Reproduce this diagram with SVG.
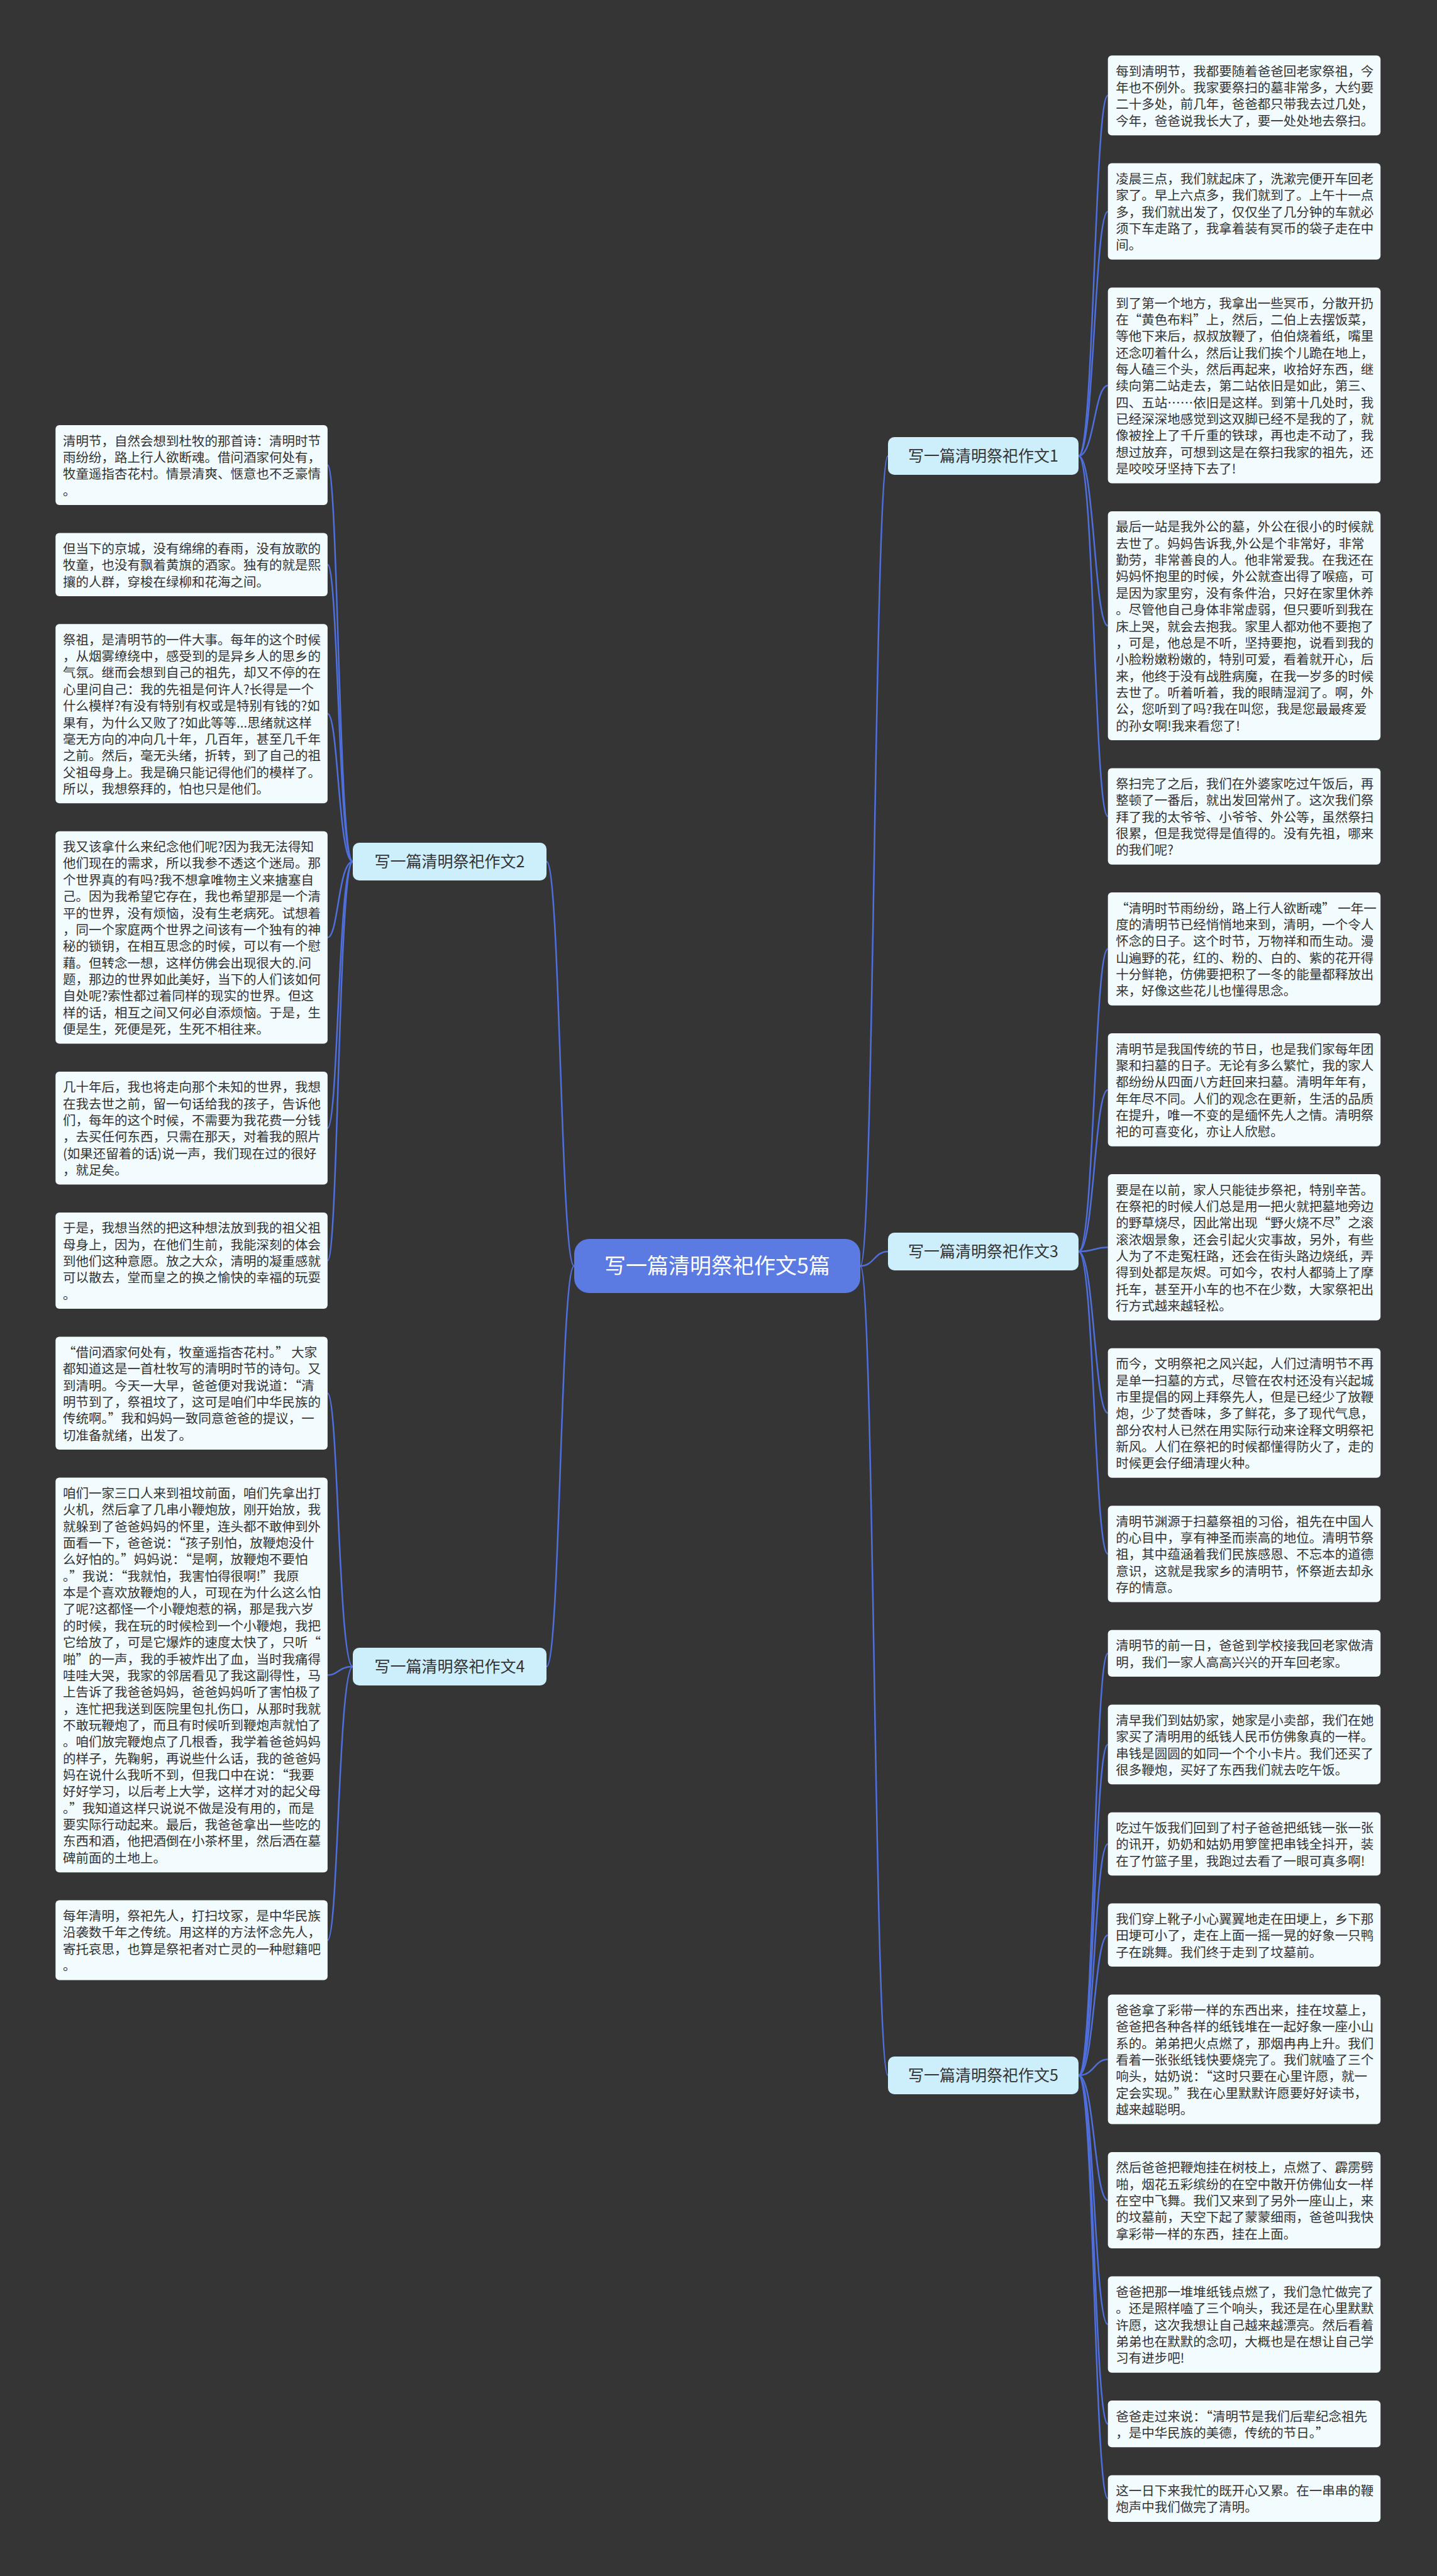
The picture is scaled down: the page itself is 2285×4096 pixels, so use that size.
<svg xmlns="http://www.w3.org/2000/svg" width="2285" height="4096" viewBox="0 0 2285 4096">
<defs>
<style>
.bg{fill:#353535}
.leaf{fill:#f2fbfe}
.lt{font-family:"Noto Sans CJK SC","Noto Sans",sans-serif;font-size:20.5px;fill:#333333}
.br{fill:#cdeefb}
.bt{font-family:"Noto Sans CJK SC","Noto Sans",sans-serif;font-size:25px;fill:#333333;text-anchor:middle}
.root{fill:#5b7be3}
.rt{font-family:"Noto Sans CJK SC","Noto Sans",sans-serif;font-size:34px;fill:#ffffff;text-anchor:middle}
.c{fill:none;stroke:#4f6fdc;stroke-width:2.5}
</style>
</defs>
<rect class="bg" x="0" y="0" width="2285" height="4096"/>
<g id="connectors">
<path class="c" d="M1368,2013 C1390,2013 1390,725 1412,725"/>
<path class="c" d="M1368,2013 C1390,2013 1390,1990 1412,1990"/>
<path class="c" d="M1368,2013 C1390,2013 1390,3300 1412,3300"/>
<path class="c" d="M913,2013 C891,2013 891,1370 869,1370"/>
<path class="c" d="M913,2013 C891,2013 891,2650 869,2650"/>
<path class="c" d="M1715,725 C1740,725 1740,151.8 1761.7,151.8"/>
<path class="c" d="M1715,725 C1740,725 1740,336.2 1761.7,336.2"/>
<path class="c" d="M1715,725 C1740,725 1740,612.9 1761.7,612.9"/>
<path class="c" d="M1715,725 C1740,725 1740,995 1761.7,995"/>
<path class="c" d="M1715,725 C1740,725 1740,1298.1 1761.7,1298.1"/>
<path class="c" d="M1715,1990 C1740,1990 1740,1508.9 1761.7,1508.9"/>
<path class="c" d="M1715,1990 C1740,1990 1740,1732.9 1761.7,1732.9"/>
<path class="c" d="M1715,1990 C1740,1990 1740,1983.3 1761.7,1983.3"/>
<path class="c" d="M1715,1990 C1740,1990 1740,2246.8 1761.7,2246.8"/>
<path class="c" d="M1715,1990 C1740,1990 1740,2470.8 1761.7,2470.8"/>
<path class="c" d="M1715,3300 C1740,3300 1740,2628.9 1761.7,2628.9"/>
<path class="c" d="M1715,3300 C1740,3300 1740,2773.9 1761.7,2773.9"/>
<path class="c" d="M1715,3300 C1740,3300 1740,2932 1761.7,2932"/>
<path class="c" d="M1715,3300 C1740,3300 1740,3076.9 1761.7,3076.9"/>
<path class="c" d="M1715,3300 C1740,3300 1740,3274.5 1761.7,3274.5"/>
<path class="c" d="M1715,3300 C1740,3300 1740,3498.5 1761.7,3498.5"/>
<path class="c" d="M1715,3300 C1740,3300 1740,3696.1 1761.7,3696.1"/>
<path class="c" d="M1715,3300 C1740,3300 1740,3854.2 1761.7,3854.2"/>
<path class="c" d="M1715,3300 C1740,3300 1740,3972.8 1761.7,3972.8"/>
<path class="c" d="M561,1370 C538,1370 538,739.6 520.9,739.6"/>
<path class="c" d="M561,1370 C538,1370 538,897.7 520.9,897.7"/>
<path class="c" d="M561,1370 C538,1370 538,1134.8 520.9,1134.8"/>
<path class="c" d="M561,1370 C538,1370 538,1490.6 520.9,1490.6"/>
<path class="c" d="M561,1370 C538,1370 538,1793.7 520.9,1793.7"/>
<path class="c" d="M561,1370 C538,1370 538,2004.5 520.9,2004.5"/>
<path class="c" d="M561,2650 C538,2650 538,2215.3 520.9,2215.3"/>
<path class="c" d="M561,2650 C538,2650 538,2663.4 520.9,2663.4"/>
<path class="c" d="M561,2650 C538,2650 538,3085.1 520.9,3085.1"/>
</g>
<g id="root">
<rect class="root" x="913" y="1970" width="455" height="86" rx="24"/>
<text class="rt" x="1140.5" y="2025">写一篇清明祭祀作文5篇</text>
</g>
<g id="b1"><rect class="br" x="1412" y="695" width="303" height="60" rx="10"/><text class="bt" x="1563.5" y="734">写一篇清明祭祀作文1</text></g>
<g id="b3"><rect class="br" x="1412" y="1960" width="303" height="60" rx="10"/><text class="bt" x="1563.5" y="1999">写一篇清明祭祀作文3</text></g>
<g id="b5"><rect class="br" x="1412" y="3270" width="303" height="60" rx="10"/><text class="bt" x="1563.5" y="3309">写一篇清明祭祀作文5</text></g>
<g id="b2"><rect class="br" x="561" y="1340" width="308" height="60" rx="10"/><text class="bt" x="715" y="1379">写一篇清明祭祀作文2</text></g>
<g id="b4"><rect class="br" x="561" y="2620" width="308" height="60" rx="10"/><text class="bt" x="715" y="2659">写一篇清明祭祀作文4</text></g>

<g id="R1"><rect class="leaf" x="1761.7" y="88.3" width="433.5" height="126.9" rx="6"/><text class="lt" x="1774.2" y="120.7"><tspan x="1774.2">每到清明节，我都要随着爸爸回老家祭祖，今</tspan><tspan x="1774.2" dy="26.36">年也不例外。我家要祭扫的墓非常多，大约要</tspan><tspan x="1774.2" dy="26.36">二十多处，前几年，爸爸都只带我去过几处，</tspan><tspan x="1774.2" dy="26.36">今年，爸爸说我长大了，要一处处地去祭扫。</tspan></text></g>
<g id="R2"><rect class="leaf" x="1761.7" y="259.6" width="433.5" height="153.2" rx="6"/><text class="lt" x="1774.2" y="292"><tspan x="1774.2">凌晨三点，我们就起床了，洗漱完便开车回老</tspan><tspan x="1774.2" dy="26.36">家了。早上六点多，我们就到了。上午十一点</tspan><tspan x="1774.2" dy="26.36">多，我们就出发了，仅仅坐了几分钟的车就必</tspan><tspan x="1774.2" dy="26.36">须下车走路了，我拿着装有冥币的袋子走在中</tspan><tspan x="1774.2" dy="26.36">间。</tspan></text></g>
<g id="R3"><rect class="leaf" x="1761.7" y="457.2" width="433.5" height="311.4" rx="6"/><text class="lt" x="1774.2" y="489.6"><tspan x="1774.2">到了第一个地方，我拿出一些冥币，分散开扔</tspan><tspan x="1774.2" dy="26.36">在“黄色布料”上，然后，二伯上去摆饭菜，</tspan><tspan x="1774.2" dy="26.36">等他下来后，叔叔放鞭了，伯伯烧着纸，嘴里</tspan><tspan x="1774.2" dy="26.36">还念叨着什么，然后让我们挨个儿跪在地上，</tspan><tspan x="1774.2" dy="26.36">每人磕三个头，然后再起来，收拾好东西，继</tspan><tspan x="1774.2" dy="26.36">续向第二站走去，第二站依旧是如此，第三、</tspan><tspan x="1774.2" dy="26.36">四、五站……依旧是这样。到第十几处时，我</tspan><tspan x="1774.2" dy="26.36">已经深深地感觉到这双脚已经不是我的了，就</tspan><tspan x="1774.2" dy="26.36">像被拴上了千斤重的铁球，再也走不动了，我</tspan><tspan x="1774.2" dy="26.36">想过放弃，可想到这是在祭扫我家的祖先，还</tspan><tspan x="1774.2" dy="26.36">是咬咬牙坚持下去了!</tspan></text></g>
<g id="R4"><rect class="leaf" x="1761.7" y="813" width="433.5" height="364.1" rx="6"/><text class="lt" x="1774.2" y="845.4"><tspan x="1774.2">最后一站是我外公的墓，外公在很小的时候就</tspan><tspan x="1774.2" dy="26.36">去世了。妈妈告诉我,外公是个非常好，非常</tspan><tspan x="1774.2" dy="26.36">勤劳，非常善良的人。他非常爱我。在我还在</tspan><tspan x="1774.2" dy="26.36">妈妈怀抱里的时候，外公就查出得了喉癌，可</tspan><tspan x="1774.2" dy="26.36">是因为家里穷，没有条件治，只好在家里休养</tspan><tspan x="1774.2" dy="26.36">。尽管他自己身体非常虚弱，但只要听到我在</tspan><tspan x="1774.2" dy="26.36">床上哭，就会去抱我。家里人都劝他不要抱了</tspan><tspan x="1774.2" dy="26.36">，可是，他总是不听，坚持要抱，说看到我的</tspan><tspan x="1774.2" dy="26.36">小脸粉嫩粉嫩的，特别可爱，看着就开心，后</tspan><tspan x="1774.2" dy="26.36">来，他终于没有战胜病魔，在我一岁多的时候</tspan><tspan x="1774.2" dy="26.36">去世了。听着听着，我的眼睛湿润了。啊，外</tspan><tspan x="1774.2" dy="26.36">公，您听到了吗?我在叫您，我是您最最疼爱</tspan><tspan x="1774.2" dy="26.36">的孙女啊!我来看您了!</tspan></text></g>
<g id="R5"><rect class="leaf" x="1761.7" y="1221.5" width="433.5" height="153.2" rx="6"/><text class="lt" x="1774.2" y="1253.9"><tspan x="1774.2">祭扫完了之后，我们在外婆家吃过午饭后，再</tspan><tspan x="1774.2" dy="26.36">整顿了一番后，就出发回常州了。这次我们祭</tspan><tspan x="1774.2" dy="26.36">拜了我的太爷爷、小爷爷、外公等，虽然祭扫</tspan><tspan x="1774.2" dy="26.36">很累，但是我觉得是值得的。没有先祖，哪来</tspan><tspan x="1774.2" dy="26.36">的我们呢?</tspan></text></g>
<g id="R6"><rect class="leaf" x="1761.7" y="1419.1" width="433.5" height="179.6" rx="6"/><text class="lt" x="1774.2" y="1451.5"><tspan x="1774.2"> “清明时节雨纷纷，路上行人欲断魂” 一年一</tspan><tspan x="1774.2" dy="26.36">度的清明节已经悄悄地来到，清明，一个令人</tspan><tspan x="1774.2" dy="26.36">怀念的日子。这个时节，万物祥和而生动。漫</tspan><tspan x="1774.2" dy="26.36">山遍野的花，红的、粉的、白的、紫的花开得</tspan><tspan x="1774.2" dy="26.36">十分鲜艳，仿佛要把积了一冬的能量都释放出</tspan><tspan x="1774.2" dy="26.36">来，好像这些花儿也懂得思念。</tspan></text></g>
<g id="R7"><rect class="leaf" x="1761.7" y="1643.1" width="433.5" height="179.6" rx="6"/><text class="lt" x="1774.2" y="1675.5"><tspan x="1774.2">清明节是我国传统的节日，也是我们家每年团</tspan><tspan x="1774.2" dy="26.36">聚和扫墓的日子。无论有多么繁忙，我的家人</tspan><tspan x="1774.2" dy="26.36">都纷纷从四面八方赶回来扫墓。清明年年有，</tspan><tspan x="1774.2" dy="26.36">年年尽不同。人们的观念在更新，生活的品质</tspan><tspan x="1774.2" dy="26.36">在提升，唯一不变的是缅怀先人之情。清明祭</tspan><tspan x="1774.2" dy="26.36">祀的可喜变化，亦让人欣慰。</tspan></text></g>
<g id="R8"><rect class="leaf" x="1761.7" y="1867.1" width="433.5" height="232.3" rx="6"/><text class="lt" x="1774.2" y="1899.5"><tspan x="1774.2">要是在以前，家人只能徒步祭祀，特别辛苦。</tspan><tspan x="1774.2" dy="26.36">在祭祀的时候人们总是用一把火就把墓地旁边</tspan><tspan x="1774.2" dy="26.36">的野草烧尽，因此常出现“野火烧不尽”之滚</tspan><tspan x="1774.2" dy="26.36">滚浓烟景象，还会引起火灾事故，另外，有些</tspan><tspan x="1774.2" dy="26.36">人为了不走冤枉路，还会在街头路边烧纸，弄</tspan><tspan x="1774.2" dy="26.36">得到处都是灰烬。可如今，农村人都骑上了摩</tspan><tspan x="1774.2" dy="26.36">托车，甚至开小车的也不在少数，大家祭祀出</tspan><tspan x="1774.2" dy="26.36">行方式越来越轻松。</tspan></text></g>
<g id="R9"><rect class="leaf" x="1761.7" y="2143.8" width="433.5" height="206" rx="6"/><text class="lt" x="1774.2" y="2176.2"><tspan x="1774.2">而今，文明祭祀之风兴起，人们过清明节不再</tspan><tspan x="1774.2" dy="26.36">是单一扫墓的方式，尽管在农村还没有兴起城</tspan><tspan x="1774.2" dy="26.36">市里提倡的网上拜祭先人，但是已经少了放鞭</tspan><tspan x="1774.2" dy="26.36">炮，少了焚香味，多了鲜花，多了现代气息，</tspan><tspan x="1774.2" dy="26.36">部分农村人已然在用实际行动来诠释文明祭祀</tspan><tspan x="1774.2" dy="26.36">新风。人们在祭祀的时候都懂得防火了，走的</tspan><tspan x="1774.2" dy="26.36">时候更会仔细清理火种。</tspan></text></g>
<g id="R10"><rect class="leaf" x="1761.7" y="2394.2" width="433.5" height="153.2" rx="6"/><text class="lt" x="1774.2" y="2426.6"><tspan x="1774.2">清明节渊源于扫墓祭祖的习俗，祖先在中国人</tspan><tspan x="1774.2" dy="26.36">的心目中，享有神圣而崇高的地位。清明节祭</tspan><tspan x="1774.2" dy="26.36">祖，其中蕴涵着我们民族感恩、不忘本的道德</tspan><tspan x="1774.2" dy="26.36">意识，这就是我家乡的清明节，怀祭逝去却永</tspan><tspan x="1774.2" dy="26.36">存的情意。</tspan></text></g>
<g id="R11"><rect class="leaf" x="1761.7" y="2591.8" width="433.5" height="74.2" rx="6"/><text class="lt" x="1774.2" y="2624.2"><tspan x="1774.2">清明节的前一日，爸爸到学校接我回老家做清</tspan><tspan x="1774.2" dy="26.36">明，我们一家人高高兴兴的开车回老家。</tspan></text></g>
<g id="R12"><rect class="leaf" x="1761.7" y="2710.4" width="433.5" height="126.9" rx="6"/><text class="lt" x="1774.2" y="2742.8"><tspan x="1774.2">清早我们到姑奶家，她家是小卖部，我们在她</tspan><tspan x="1774.2" dy="26.36">家买了清明用的纸钱人民币仿佛象真的一样。</tspan><tspan x="1774.2" dy="26.36">串钱是圆圆的如同一个个小卡片。我们还买了</tspan><tspan x="1774.2" dy="26.36">很多鞭炮，买好了东西我们就去吃午饭。</tspan></text></g>
<g id="R13"><rect class="leaf" x="1761.7" y="2881.7" width="433.5" height="100.5" rx="6"/><text class="lt" x="1774.2" y="2914.1"><tspan x="1774.2">吃过午饭我们回到了村子爸爸把纸钱一张一张</tspan><tspan x="1774.2" dy="26.36">的讯开，奶奶和姑奶用箩筐把串钱全抖开，装</tspan><tspan x="1774.2" dy="26.36">在了竹篮子里，我跑过去看了一眼可真多啊!</tspan></text></g>
<g id="R14"><rect class="leaf" x="1761.7" y="3026.6" width="433.5" height="100.5" rx="6"/><text class="lt" x="1774.2" y="3059"><tspan x="1774.2">我们穿上靴子小心翼翼地走在田埂上，乡下那</tspan><tspan x="1774.2" dy="26.36">田埂可小了，走在上面一摇一晃的好象一只鸭</tspan><tspan x="1774.2" dy="26.36">子在跳舞。我们终于走到了坟墓前。</tspan></text></g>
<g id="R15"><rect class="leaf" x="1761.7" y="3171.5" width="433.5" height="206" rx="6"/><text class="lt" x="1774.2" y="3203.9"><tspan x="1774.2">爸爸拿了彩带一样的东西出来，挂在坟墓上，</tspan><tspan x="1774.2" dy="26.36">爸爸把各种各样的纸钱堆在一起好象一座小山</tspan><tspan x="1774.2" dy="26.36">系的。弟弟把火点燃了，那烟冉冉上升。我们</tspan><tspan x="1774.2" dy="26.36">看着一张张纸钱快要烧完了。我们就嗑了三个</tspan><tspan x="1774.2" dy="26.36">响头，姑奶说：“这时只要在心里许愿，就一</tspan><tspan x="1774.2" dy="26.36">定会实现。”我在心里默默许愿要好好读书，</tspan><tspan x="1774.2" dy="26.36">越来越聪明。</tspan></text></g>
<g id="R16"><rect class="leaf" x="1761.7" y="3421.9" width="433.5" height="153.2" rx="6"/><text class="lt" x="1774.2" y="3454.3"><tspan x="1774.2">然后爸爸把鞭炮挂在树枝上，点燃了、霹雳劈</tspan><tspan x="1774.2" dy="26.36">啪，烟花五彩缤纷的在空中散开仿佛仙女一样</tspan><tspan x="1774.2" dy="26.36">在空中飞舞。我们又来到了另外一座山上，来</tspan><tspan x="1774.2" dy="26.36">的坟墓前，天空下起了蒙蒙细雨，爸爸叫我快</tspan><tspan x="1774.2" dy="26.36">拿彩带一样的东西，挂在上面。</tspan></text></g>
<g id="R17"><rect class="leaf" x="1761.7" y="3619.5" width="433.5" height="153.2" rx="6"/><text class="lt" x="1774.2" y="3651.9"><tspan x="1774.2">爸爸把那一堆堆纸钱点燃了，我们急忙做完了</tspan><tspan x="1774.2" dy="26.36">。还是照样嗑了三个响头，我还是在心里默默</tspan><tspan x="1774.2" dy="26.36">许愿，这次我想让自己越来越漂亮。然后看着</tspan><tspan x="1774.2" dy="26.36">弟弟也在默默的念叨，大概也是在想让自己学</tspan><tspan x="1774.2" dy="26.36">习有进步吧!</tspan></text></g>
<g id="R18"><rect class="leaf" x="1761.7" y="3817.1" width="433.5" height="74.2" rx="6"/><text class="lt" x="1774.2" y="3849.5"><tspan x="1774.2">爸爸走过来说：“清明节是我们后辈纪念祖先</tspan><tspan x="1774.2" dy="26.36">，是中华民族的美德，传统的节日。”</tspan></text></g>
<g id="R19"><rect class="leaf" x="1761.7" y="3935.7" width="433.5" height="74.2" rx="6"/><text class="lt" x="1774.2" y="3968.1"><tspan x="1774.2">这一日下来我忙的既开心又累。在一串串的鞭</tspan><tspan x="1774.2" dy="26.36">炮声中我们做完了清明。</tspan></text></g>

<g id="L1"><rect class="leaf" x="88.3" y="676.1" width="432.6" height="126.9" rx="6"/><text class="lt" x="99.9" y="708.5"><tspan x="99.9">清明节，自然会想到杜牧的那首诗：清明时节</tspan><tspan x="99.9" dy="26.36">雨纷纷，路上行人欲断魂。借问酒家何处有，</tspan><tspan x="99.9" dy="26.36">牧童遥指杏花村。情景清爽、惬意也不乏豪情</tspan><tspan x="99.9" dy="26.36">。</tspan></text></g>
<g id="L2"><rect class="leaf" x="88.3" y="847.4" width="432.6" height="100.5" rx="6"/><text class="lt" x="99.9" y="879.8"><tspan x="99.9">但当下的京城，没有绵绵的春雨，没有放歌的</tspan><tspan x="99.9" dy="26.36">牧童，也没有飘着黄旗的酒家。独有的就是熙</tspan><tspan x="99.9" dy="26.36">攘的人群，穿梭在绿柳和花海之间。</tspan></text></g>
<g id="L3"><rect class="leaf" x="88.3" y="992.3" width="432.6" height="285" rx="6"/><text class="lt" x="99.9" y="1024.7"><tspan x="99.9">祭祖，是清明节的一件大事。每年的这个时候</tspan><tspan x="99.9" dy="26.36">，从烟雾缭绕中，感受到的是异乡人的思乡的</tspan><tspan x="99.9" dy="26.36">气氛。继而会想到自己的祖先，却又不停的在</tspan><tspan x="99.9" dy="26.36">心里问自己：我的先祖是何许人?长得是一个</tspan><tspan x="99.9" dy="26.36">什么模样?有没有特别有权或是特别有钱的?如</tspan><tspan x="99.9" dy="26.36">果有，为什么又败了?如此等等...思绪就这样</tspan><tspan x="99.9" dy="26.36">毫无方向的冲向几十年，几百年，甚至几千年</tspan><tspan x="99.9" dy="26.36">之前。然后，毫无头绪，折转，到了自己的祖</tspan><tspan x="99.9" dy="26.36">父祖母身上。我是确只能记得他们的模样了。</tspan><tspan x="99.9" dy="26.36">所以，我想祭拜的，怕也只是他们。</tspan></text></g>
<g id="L4"><rect class="leaf" x="88.3" y="1321.7" width="432.6" height="337.8" rx="6"/><text class="lt" x="99.9" y="1354.1"><tspan x="99.9">我又该拿什么来纪念他们呢?因为我无法得知</tspan><tspan x="99.9" dy="26.36">他们现在的需求，所以我参不透这个迷局。那</tspan><tspan x="99.9" dy="26.36">个世界真的有吗?我不想拿唯物主义来搪塞自</tspan><tspan x="99.9" dy="26.36">己。因为我希望它存在，我也希望那是一个清</tspan><tspan x="99.9" dy="26.36">平的世界，没有烦恼，没有生老病死。试想着</tspan><tspan x="99.9" dy="26.36">，同一个家庭两个世界之间该有一个独有的神</tspan><tspan x="99.9" dy="26.36">秘的锁钥，在相互思念的时候，可以有一个慰</tspan><tspan x="99.9" dy="26.36">藉。但转念一想，这样仿佛会出现很大的.问</tspan><tspan x="99.9" dy="26.36">题，那边的世界如此美好，当下的人们该如何</tspan><tspan x="99.9" dy="26.36">自处呢?索性都过着同样的现实的世界。但这</tspan><tspan x="99.9" dy="26.36">样的话，相互之间又何必自添烦恼。于是，生</tspan><tspan x="99.9" dy="26.36">便是生，死便是死，生死不相往来。</tspan></text></g>
<g id="L5"><rect class="leaf" x="88.3" y="1703.9" width="432.6" height="179.6" rx="6"/><text class="lt" x="99.9" y="1736.3"><tspan x="99.9">几十年后，我也将走向那个未知的世界，我想</tspan><tspan x="99.9" dy="26.36">在我去世之前，留一句话给我的孩子，告诉他</tspan><tspan x="99.9" dy="26.36">们，每年的这个时候，不需要为我花费一分钱</tspan><tspan x="99.9" dy="26.36">，去买任何东西，只需在那天，对着我的照片</tspan><tspan x="99.9" dy="26.36">(如果还留着的话)说一声，我们现在过的很好</tspan><tspan x="99.9" dy="26.36">，就足矣。</tspan></text></g>
<g id="L6"><rect class="leaf" x="88.3" y="1927.9" width="432.6" height="153.2" rx="6"/><text class="lt" x="99.9" y="1960.3"><tspan x="99.9">于是，我想当然的把这种想法放到我的祖父祖</tspan><tspan x="99.9" dy="26.36">母身上，因为，在他们生前，我能深刻的体会</tspan><tspan x="99.9" dy="26.36">到他们这种意愿。放之大众，清明的凝重感就</tspan><tspan x="99.9" dy="26.36">可以散去，堂而皇之的换之愉快的幸福的玩耍</tspan><tspan x="99.9" dy="26.36">。</tspan></text></g>
<g id="L7"><rect class="leaf" x="88.3" y="2125.5" width="432.6" height="179.6" rx="6"/><text class="lt" x="99.9" y="2157.9"><tspan x="99.9"> “借问酒家何处有，牧童遥指杏花村。” 大家</tspan><tspan x="99.9" dy="26.36">都知道这是一首杜牧写的清明时节的诗句。又</tspan><tspan x="99.9" dy="26.36">到清明。今天一大早，爸爸便对我说道：“清</tspan><tspan x="99.9" dy="26.36">明节到了，祭祖坟了，这可是咱们中华民族的</tspan><tspan x="99.9" dy="26.36">传统啊。”我和妈妈一致同意爸爸的提议，一</tspan><tspan x="99.9" dy="26.36">切准备就绪，出发了。</tspan></text></g>
<g id="L8"><rect class="leaf" x="88.3" y="2349.5" width="432.6" height="627.7" rx="6"/><text class="lt" x="99.9" y="2381.9"><tspan x="99.9">咱们一家三口人来到祖坟前面，咱们先拿出打</tspan><tspan x="99.9" dy="26.36">火机，然后拿了几串小鞭炮放，刚开始放，我</tspan><tspan x="99.9" dy="26.36">就躲到了爸爸妈妈的怀里，连头都不敢伸到外</tspan><tspan x="99.9" dy="26.36">面看一下，爸爸说：“孩子别怕，放鞭炮没什</tspan><tspan x="99.9" dy="26.36">么好怕的。”妈妈说：“是啊，放鞭炮不要怕</tspan><tspan x="99.9" dy="26.36">。”我说：“我就怕，我害怕得很啊!”我原</tspan><tspan x="99.9" dy="26.36">本是个喜欢放鞭炮的人，可现在为什么这么怕</tspan><tspan x="99.9" dy="26.36">了呢?这都怪一个小鞭炮惹的祸，那是我六岁</tspan><tspan x="99.9" dy="26.36">的时候，我在玩的时候检到一个小鞭炮，我把</tspan><tspan x="99.9" dy="26.36">它给放了，可是它爆炸的速度太快了，只听“</tspan><tspan x="99.9" dy="26.36">啪”的一声，我的手被炸出了血，当时我痛得</tspan><tspan x="99.9" dy="26.36">哇哇大哭，我家的邻居看见了我这副得性，马</tspan><tspan x="99.9" dy="26.36">上告诉了我爸爸妈妈，爸爸妈妈听了害怕极了</tspan><tspan x="99.9" dy="26.36">，连忙把我送到医院里包扎伤口，从那时我就</tspan><tspan x="99.9" dy="26.36">不敢玩鞭炮了，而且有时候听到鞭炮声就怕了</tspan><tspan x="99.9" dy="26.36">。咱们放完鞭炮点了几根香，我学着爸爸妈妈</tspan><tspan x="99.9" dy="26.36">的样子，先鞠躬，再说些什么话，我的爸爸妈</tspan><tspan x="99.9" dy="26.36">妈在说什么我听不到，但我口中在说：“我要</tspan><tspan x="99.9" dy="26.36">好好学习，以后考上大学，这样才对的起父母</tspan><tspan x="99.9" dy="26.36">。”我知道这样只说说不做是没有用的，而是</tspan><tspan x="99.9" dy="26.36">要实际行动起来。最后，我爸爸拿出一些吃的</tspan><tspan x="99.9" dy="26.36">东西和酒，他把酒倒在小茶杯里，然后洒在墓</tspan><tspan x="99.9" dy="26.36">碑前面的土地上。</tspan></text></g>
<g id="L9"><rect class="leaf" x="88.3" y="3021.6" width="432.6" height="126.9" rx="6"/><text class="lt" x="99.9" y="3054"><tspan x="99.9">每年清明，祭祀先人，打扫坟冢，是中华民族</tspan><tspan x="99.9" dy="26.36">沿袭数千年之传统。用这样的方法怀念先人，</tspan><tspan x="99.9" dy="26.36">寄托哀思，也算是祭祀者对亡灵的一种慰籍吧</tspan><tspan x="99.9" dy="26.36">。</tspan></text></g>
</svg>
